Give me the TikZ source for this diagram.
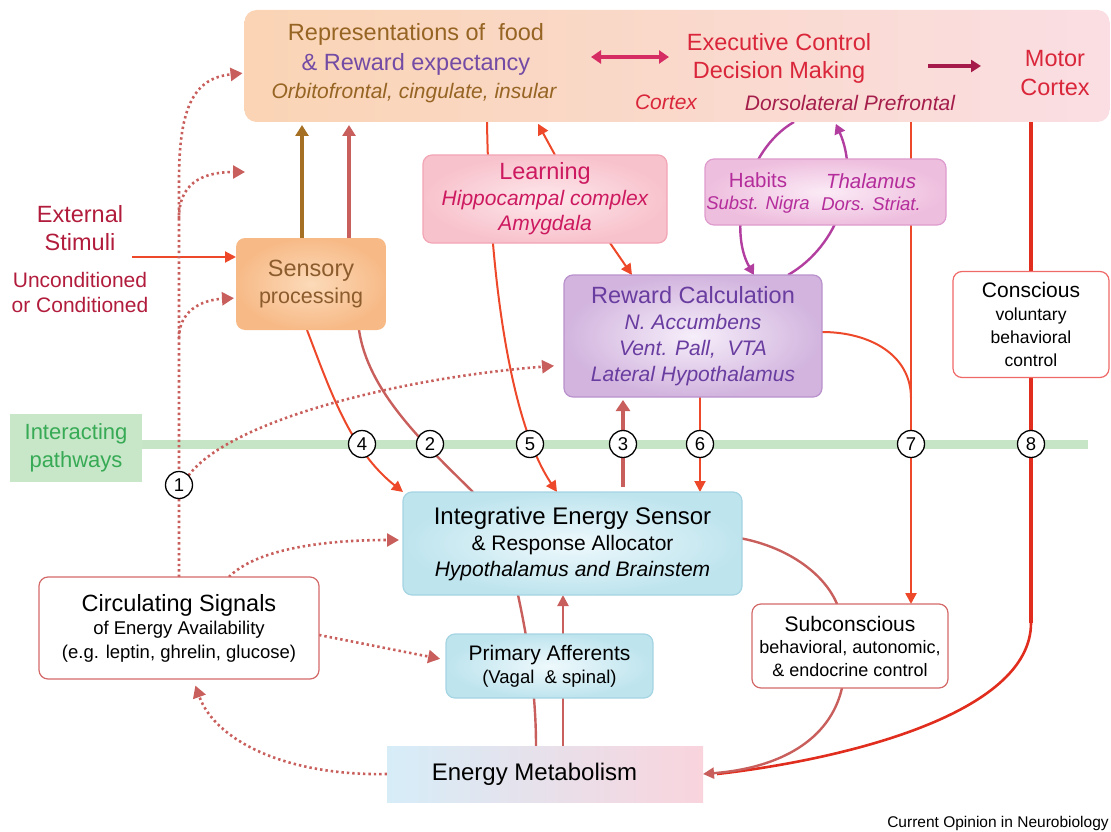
\documentclass[tikz,border=0pt]{standalone}
\usepackage{fontspec}
\setmainfont{Liberation Sans}
\usetikzlibrary{arrows.meta,calc}

\pgfdeclarelayer{back}
\pgfdeclarelayer{mid}
\pgfsetlayers{back,mid,main}

% connector colours
\definecolor{cRed}{RGB}{238,72,42}
\definecolor{cRosy}{RGB}{200,95,92}
\definecolor{cBrownA}{RGB}{165,112,35}
\definecolor{cMag}{RGB}{178,62,160}
\definecolor{cDbl}{RGB}{214,44,100}
\definecolor{cMot}{RGB}{165,25,75}
\definecolor{cLine8}{RGB}{225,45,30}
\definecolor{cBand}{RGB}{198,228,198}
% text colours
\definecolor{tBrown}{RGB}{150,100,35}
\definecolor{tPurple}{RGB}{115,75,165}
\definecolor{tExec}{RGB}{218,38,58}
\definecolor{tDLPF}{RGB}{165,30,75}
\definecolor{tExt}{RGB}{178,28,60}
\definecolor{tSens}{RGB}{140,92,45}
\definecolor{tLearn}{RGB}{205,25,95}
\definecolor{tHab}{RGB}{180,45,155}
\definecolor{tRew}{RGB}{105,60,160}
\definecolor{tGreen}{RGB}{55,170,85}
% box fills
\definecolor{fTopL}{RGB}{250,212,180}
\definecolor{fTopR}{RGB}{250,222,227}
\definecolor{fSensO}{RGB}{247,186,135}
\definecolor{fSensI}{RGB}{252,218,185}
\definecolor{fLearnO}{RGB}{248,194,204}
\definecolor{fLearnI}{RGB}{253,232,236}
\definecolor{bLearn}{RGB}{242,165,180}
\definecolor{fHabO}{RGB}{238,190,222}
\definecolor{fHabI}{RGB}{251,235,246}
\definecolor{bHab}{RGB}{222,155,205}
\definecolor{fRewO}{RGB}{210,180,222}
\definecolor{fRewI}{RGB}{246,238,250}
\definecolor{bRew}{RGB}{185,145,205}
\definecolor{fBlueO}{RGB}{190,228,238}
\definecolor{fBlueI}{RGB}{238,249,252}
\definecolor{bBlue}{RGB}{165,212,226}
\definecolor{fEmL}{RGB}{214,237,248}
\definecolor{fEmM}{RGB}{230,222,236}
\definecolor{fEmR}{RGB}{249,212,221}
\definecolor{bWhite}{RGB}{212,105,105}
\definecolor{bConc}{RGB}{240,105,105}
\definecolor{fGreen}{RGB}{200,230,200}

\tikzset{
  every node/.style={inner sep=0pt, outer sep=0pt},
  fa/.style={font=\fontsize{23.5}{28}\selectfont},
  fai/.style={font=\fontsize{21}{25}\selectfont\itshape},
  box/.style={rounded corners=9pt, line width=1.2pt, align=center},
  bluebox/.style={box, draw=bBlue, inner color=fBlueI, outer color=fBlueO, text=black},
  whitebox/.style={box, draw=bWhite, fill=white, text=black},
  numc/.style={circle, draw=black, fill=white, line width=1.3pt, minimum size=27pt,
               font=\fontsize{18.5}{18.5}\selectfont},
  redln/.style={draw=cRed, line width=2pt},
  rosyln/.style={draw=cRosy, line width=2.4pt},
  dotln/.style={draw=cRosy, line width=2.6pt, dash pattern=on 2.4pt off 3pt},
  tipS/.style={-{Triangle[length=11pt,width=11pt]}},
  tipD/.style={-{Triangle[length=12pt,width=13pt]}},
  tipM/.style={-{Triangle[length=10pt,width=11pt]}},
}

\begin{document}
\begin{tikzpicture}[x=1pt,y=-1pt]
\useasboundingbox (0,0) rectangle (1111,832);

% ---------- boxes ----------
\node[rounded corners=12pt, left color=fTopL, right color=fTopR,
      minimum width=865pt, minimum height=112pt] (top) at (677,66) {};

\node[fa, text=tBrown, anchor=base] (repA) at (416,41) {Representations of~ food};
\node[fa, text=tPurple, anchor=base] (repB) at (416,71) {\& Reward expectancy};
\node[fai, text=tBrown, anchor=base] (repC) at (414,99) {Orbitofrontal, cingulate, insular};
\node[fa, text=tExec, align=center, font=\fontsize{23.5}{28}\selectfont] (exec) at (779,58)
     {Executive Control\\Decision Making};
\node[fai, text=tExec, anchor=base] (ctx) at (666,110) {Cortex};
\node[fai, text=tDLPF, anchor=base] (dlpf) at (850,111) {Dorsolateral Prefrontal};
\node[fa, text=tExec, align=center, font=\fontsize{23.5}{29}\selectfont] (motor) at (1055,73)
     {Motor\\Cortex};

\node[box, inner color=fSensI, outer color=fSensO, text=tSens,
      minimum width=150pt, minimum height=92pt,
      font=\fontsize{21.5}{27}\selectfont] (sens) at (311,284)
     {{\fontsize{23.5}{27}\selectfont Sensory}\\processing};

\node[text=tExt, align=center, font=\fontsize{23.5}{28}\selectfont] (ext) at (80,228)
     {External\\Stimuli};
\node[text=tExt, align=center, font=\fontsize{21}{25}\selectfont] (cond) at (80,292)
     {Unconditioned\\or Conditioned};

\node[box, draw=bLearn, inner color=fLearnI, outer color=fLearnO, text=tLearn,
      minimum width=244pt, minimum height=88pt,
      font=\fontsize{21}{25.5}\selectfont\itshape] (learn) at (545,199)
     {{\upshape\fontsize{23.5}{25.5}\selectfont Learning}\\Hippocampal complex\\Amygdala};

\node[box, draw=bHab, inner color=fHabI, outer color=fHabO,
      minimum width=241pt, minimum height=66pt] (hab) at (825.5,192) {};
\node[text=tHab, align=center, font=\fontsize{18.5}{22}\selectfont\itshape] (habL) at (758,193)
     {{\upshape\fontsize{20.5}{22}\selectfont Habits}\\Subst. Nigra};
\node[text=tHab, align=center, font=\fontsize{18.5}{22}\selectfont\itshape] (habR) at (871,192)
     {{\fontsize{20.5}{22}\selectfont Thalamus}\\Dors. Striat.};

\node[box, draw=bRew, inner color=fRewI, outer color=fRewO, text=tRew,
      minimum width=258pt, minimum height=122pt,
      font=\fontsize{21}{26}\selectfont\itshape] (rew) at (693,336)
     {{\upshape\fontsize{23.5}{26}\selectfont Reward Calculation}\\N. Accumbens\\Vent. Pall,~ VTA\\Lateral Hypothalamus};

\node[box, draw=bConc, fill=white, text=black, minimum width=156pt, minimum height=106pt,
      font=\fontsize{17.5}{23}\selectfont] (conc) at (1031,324.5)
     {{\fontsize{21}{23}\selectfont Conscious}\\voluntary\\behavioral\\control};

\node[bluebox, minimum width=339pt, minimum height=103pt,
      font=\fontsize{21}{26}\selectfont] (int) at (572.5,543.5)
     {{\fontsize{24}{26}\selectfont Integrative Energy Sensor}\\\& Response Allocator\\{\itshape Hypothalamus and Brainstem}};

\node[bluebox, minimum width=207pt, minimum height=64pt,
      font=\fontsize{18.5}{23}\selectfont] (prim) at (549.5,666)
     {{\fontsize{21}{23}\selectfont Primary Afferents}\\(Vagal~ \& spinal)};

\node[whitebox, minimum width=280pt, minimum height=102pt,
      font=\fontsize{18.5}{23.5}\selectfont] (circ) at (179,628)
     {{\fontsize{23.5}{23.5}\selectfont Circulating Signals}\\of Energy Availability\\(e.g. leptin, ghrelin, glucose)};

\node[whitebox, minimum width=196pt, minimum height=84pt,
      font=\fontsize{18}{22.5}\selectfont] (sub) at (850,646)
     {{\fontsize{21}{22.5}\selectfont Subconscious}\\behavioral, autonomic,\\\& endocrine control};

\node[left color=fEmL, middle color=fEmM, right color=fEmR,
      minimum width=316pt, minimum height=56pt,
      font=\fontsize{24}{26}\selectfont] (energy) at (545,774) {Energy Metabolism\hspace*{21pt}};

\node[fill=fGreen, minimum width=132pt, minimum height=68pt, text=tGreen, align=center,
      font=\fontsize{22}{28}\selectfont] (green) at (76,448) {Interacting\\pathways};

\node[font=\fontsize{15.5}{18}\selectfont] (credit) at (998,823) {Current Opinion in Neurobiology};

% ---------- numbered pathway markers ----------
\node[numc] (c1) at (179,485) {1};
\node[numc] (c4) at (362,444) {4};
\node[numc] (c2) at (430,444) {2};
\node[numc] (c5) at (530,444) {5};
\node[numc] (c3) at (623,444) {3};
\node[numc] (c6) at (700,444) {6};
\node[numc] (c7) at (911,444) {7};
\node[numc] (c8) at (1031,444) {8};

% free ends
\coordinate (extOut) at (132,257);
\coordinate (dTop) at (179,180);
\coordinate (dMidA) at (179,218);
\coordinate (dMid) at (245,172);
\coordinate (dLow) at (179,338);
\coordinate (bend8) at (1031,623);
\coordinate (dblA) at (591,57);
\coordinate (dblB) at (669,57);
\coordinate (motA) at (928,66);
\coordinate (motB) at (981,66);

% arrows inside the top box
\draw[draw=cDbl, line width=4pt, {Triangle[length=10pt,width=13pt]}-{Triangle[length=10pt,width=13pt]}] (dblA) -- (dblB);
\draw[draw=cMot, line width=4pt, -{Triangle[length=10pt,width=12pt]}] (motA) -- (motB);

% ---------- pathway band ----------
\begin{pgfonlayer}{back}
\draw[cBand, line width=9pt] (green.east |- c4) -- (1088,444);
\end{pgfonlayer}

% ---------- connectors ----------
\begin{pgfonlayer}{mid}
% external stimuli
\draw[redln, tipS] (extOut) -- (extOut -| sens.west);
% sensory up to cortex
\draw[draw=cBrownA, line width=4pt, -{Triangle[length=11pt,width=13pt]}, shorten >=3pt]
  ([xshift=-9pt]sens.north) -- ([xshift=-9pt]sens.north |- top.south);
\draw[draw=cRosy, line width=4pt, -{Triangle[length=11pt,width=13pt]}, shorten >=3pt]
  ([xshift=38pt]sens.north) -- ([xshift=38pt]sens.north |- top.south);
% pathway 4
\draw[redln, tipS] ([xshift=-4pt]sens.south) .. controls (330,390) and (350,450) .. (int.north west);
% pathway 2
\draw[rosyln] ([xshift=48pt]sens.south) .. controls (368,390) and (420,440) .. ([xshift=-99.5pt]int.north);
% pathway 5
\draw[redln, tipS] ([xshift=-190pt]top.south) .. controls (490,300) and (515,430) .. ([xshift=-15.5pt]int.north);
% learning
\draw[redln, tipS, shorten >=2pt] ([xshift=10pt]learn.north) -- ([xshift=-8pt]learn.north |- top.south);
\draw[redln, tipS] ([xshift=65pt]learn.south) -- ([xshift=-61pt]rew.north);
% habits loop
\draw[draw=cMag, line width=2.4pt, tipM] ([xshift=117pt]top.south) .. controls (745,150) and (728,230) .. ([xshift=61pt]rew.north);
\draw[draw=cMag, line width=2.4pt, tipM, shorten >=2pt] ([xshift=95pt]rew.north) .. controls (840,245) and (860,178) .. ([xshift=158pt]top.south);
% pathway 3
\draw[draw=cRosy, line width=4.5pt, -{Triangle[length=11pt,width=14pt]}, shorten <=5pt, shorten >=3pt]
  ([xshift=50.5pt]int.north) -- ([xshift=50.5pt]int.north |- rew.south);
% pathway 6
\draw[redln, tipS] ([xshift=7pt]rew.south) -- ([xshift=7pt]rew.south |- int.north);
% pathway 7
\draw[draw=cRed, line width=2.5pt, tipS] ([xshift=234pt]top.south) -- ([xshift=234pt]top.south |- sub.north);
\draw[redln] ([yshift=4pt]rew.east) .. controls (870,332) and (911,355) .. (911,398);
% pathway 8
\draw[draw=cLine8, line width=3.6pt] ([xshift=354pt]top.south) -- (bend8);
\draw[draw=cLine8, line width=2.6pt] (bend8) .. controls (1031,715) and (840,760) .. ([xshift=14pt]energy.east);
% energy sensor outputs and inputs
\draw[rosyln] ([yshift=5pt]int.east) .. controls (790,548) and (825,575) .. ([xshift=-13pt]sub.north);
\draw[rosyln, tipS] ([xshift=-8pt]sub.south) .. controls (830,740) and (780,768) .. (energy.east);
\draw[rosyln] ([xshift=-54.5pt]int.south) .. controls (530,650) and (536,700) .. ([xshift=-9pt]energy.north);
\draw[rosyln, tipS] ([xshift=18pt]energy.north) -- ([xshift=18pt]energy.north |- int.south);
% circulating signals (dotted)
\draw[dotln, tipD, shorten >=2pt] (c1 |- circ.north) -- (dTop) .. controls (179,105) and (195,78) .. ([yshift=-7pt]top.west);
\draw[dotln, tipD] (dMidA) .. controls (179,185) and (200,172) .. (dMid);
\draw[dotln, tipD, shorten >=2pt] (dLow) .. controls (179,312) and (200,300) .. ([yshift=-14pt]sens.west);
\draw[dotln, tipD, shorten >=10pt] (c1.north east) .. controls (230,420) and (400,378) .. ([yshift=-29pt]rew.west);
\draw[dotln, tipD, shorten >=4pt] ([xshift=50pt]circ.north) .. controls (255,550) and (320,540) .. ([yshift=3.5pt]int.west);
\draw[dotln, tipD, shorten >=6pt] ([yshift=-7pt]circ.east) -- ([yshift=6pt]prim.west);
\draw[dotln, tipD, shorten >=7pt] (energy.west) .. controls (285,776) and (215,740) .. ([xshift=14pt]circ.south);
\end{pgfonlayer}
\end{tikzpicture}
\end{document}
